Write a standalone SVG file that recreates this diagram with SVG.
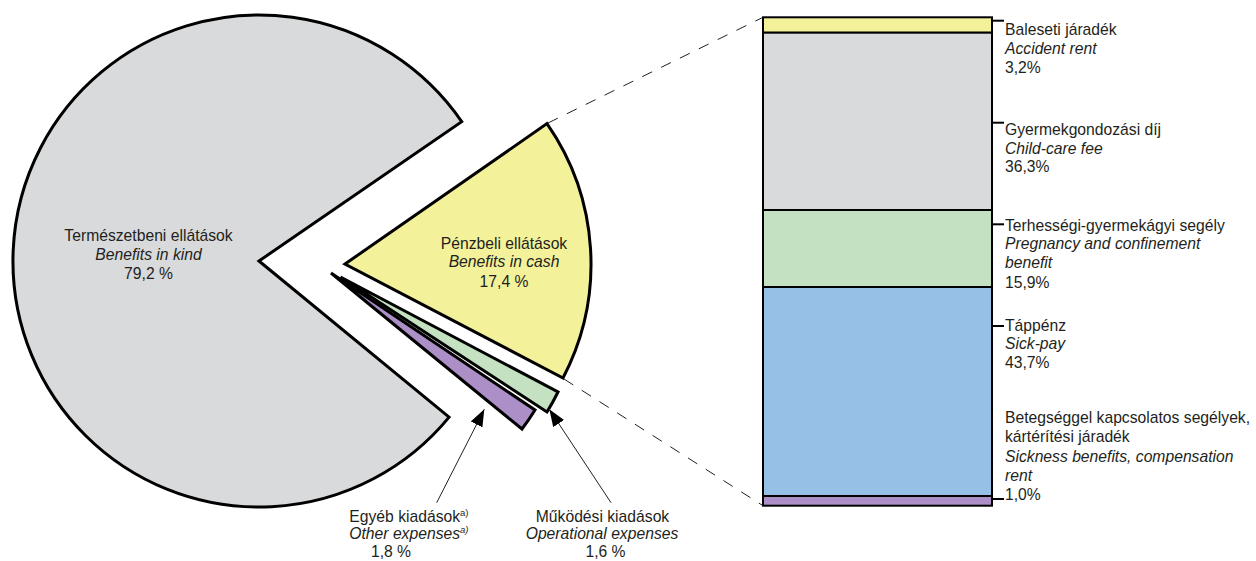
<svg xmlns="http://www.w3.org/2000/svg" width="1256" height="561" viewBox="0 0 1256 561">
<defs>
<style>
text{font-family:"Liberation Sans",Arial,sans-serif;font-size:15.7px;fill:#231f20}
.i{font-style:italic}
.m{text-anchor:middle}
.sup{font-size:9.5px}
.slice{stroke:#000;stroke-width:3;stroke-linejoin:miter;stroke-miterlimit:10}
.seg{stroke:#000;stroke-width:2}
.dash{stroke:#231f20;stroke-width:1;fill:none;stroke-dasharray:11 10}
.tick{stroke:#000;stroke-width:2}
.arr{stroke:#231f20;stroke-width:1;fill:none}
</style>
<marker id="ah" markerUnits="userSpaceOnUse" markerWidth="18" markerHeight="14" refX="17" refY="6.5" orient="auto">
<path d="M0,0 L17,6.5 L0,13 Z" fill="#000"/>
</marker>
</defs>
<rect width="1256" height="561" fill="#fff"/>

<g id="node-benefits-in-kind">
<path class="slice" fill="#d9dadb" d="M259,261 L461.7,121.7 A246,246 0 1,0 449.1,417.1 Z"/>
<text class="m" x="148.5" y="241">Természetbeni ellátások</text>
<text class="m i" x="148.5" y="259.5">Benefits in kind</text>
<text class="m" x="148.5" y="278.5">79,2 %</text>
</g>

<g id="node-benefits-in-cash">
<path class="slice" fill="#f4f19b" d="M345,264 L547,123.6 A246,246 0 0,1 563,378 Z"/>
<text class="m" x="504" y="248.5">Pénzbeli ellátások</text>
<text class="m i" x="504" y="267.3">Benefits in cash</text>
<text class="m" x="504" y="286.7">17,4 %</text>
</g>

<g id="node-other-expenses">
<path class="slice" fill="#ab8fc6" d="M331,273 L535,410 A246,246 0 0,1 522,429 Z"/>
<text x="349.3" y="521.7">Egyéb kiadások<tspan class="sup" dy="-6">a)</tspan></text>
<text class="i" x="349.3" y="539.3">Other expenses<tspan class="sup" dy="-6">a)</tspan></text>
<text class="m" x="391" y="556.7">1,8 %</text>
</g>

<g id="node-operational-expenses">
<path class="slice" fill="#c4e2c2" d="M340.5,277 L558,392 A246,246 0 0,1 547,412 Z"/>
<text class="m" x="602.5" y="521.7">Működési kiadások</text>
<text class="m i" x="602" y="539.3">Operational expenses</text>
<text class="m" x="605.5" y="556.7">1,6 %</text>
</g>

<g id="node-accident-rent">
<rect class="seg" fill="#f4f19b" x="763" y="17.3" width="229" height="15.4"/>
<text x="1005" y="35">Baleseti járadék</text>
<text class="i" x="1005" y="53.5">Accident rent</text>
<text x="1005" y="72.5">3,2%</text>
</g>

<g id="node-child-care-fee">
<rect class="seg" fill="#d9dadb" x="763" y="32.7" width="229" height="177.3"/>
<text x="1005" y="135">Gyermekgondozási díj</text>
<text class="i" x="1005" y="153.5">Child-care fee</text>
<text x="1005" y="172.3">36,3%</text>
</g>

<g id="node-pregnancy">
<rect class="seg" fill="#c4e2c2" x="763" y="210" width="229" height="77"/>
<text x="1005" y="230.7">Terhességi-gyermekágyi segély</text>
<text class="i" x="1005" y="249.3">Pregnancy and confinement</text>
<text class="i" x="1005" y="268.3">benefit</text>
<text x="1005" y="287.7">15,9%</text>
</g>

<g id="node-sick-pay">
<rect class="seg" fill="#97c0e6" x="763" y="287" width="229" height="209"/>
<text x="1005" y="330.7">Táppénz</text>
<text class="i" x="1005" y="349.3">Sick-pay</text>
<text x="1005" y="368.3">43,7%</text>
</g>

<g id="node-sickness-benefits">
<rect class="seg" fill="#ab8fc6" x="763" y="496" width="229" height="9.7"/>
<text x="1005" y="423.3">Betegséggel kapcsolatos segélyek,</text>
<text x="1005" y="442.3">kártérítési járadék</text>
<text class="i" x="1005" y="461.5">Sickness benefits, compensation</text>
<text class="i" x="1005" y="480.5">rent</text>
<text x="1005" y="500">1,0%</text>
</g>

<g id="connectors">
<line class="dash" x1="548" y1="123" x2="763" y2="17.3"/>
<line class="dash" x1="564" y1="379" x2="763" y2="505.7"/>
<line class="tick" x1="992" y1="20.7" x2="1004" y2="20.7"/>
<line class="tick" x1="992" y1="122.7" x2="1004" y2="122.7"/>
<line class="tick" x1="992" y1="224.3" x2="1004" y2="224.3"/>
<line class="tick" x1="992" y1="326" x2="1004" y2="326"/>
<line class="tick" x1="992" y1="499" x2="1004" y2="499"/>
<line class="arr" x1="436.7" y1="502.7" x2="484.3" y2="409.3" marker-end="url(#ah)"/>
<line class="arr" x1="611" y1="502.7" x2="549.3" y2="409.3" marker-end="url(#ah)"/>
</g>
</svg>
